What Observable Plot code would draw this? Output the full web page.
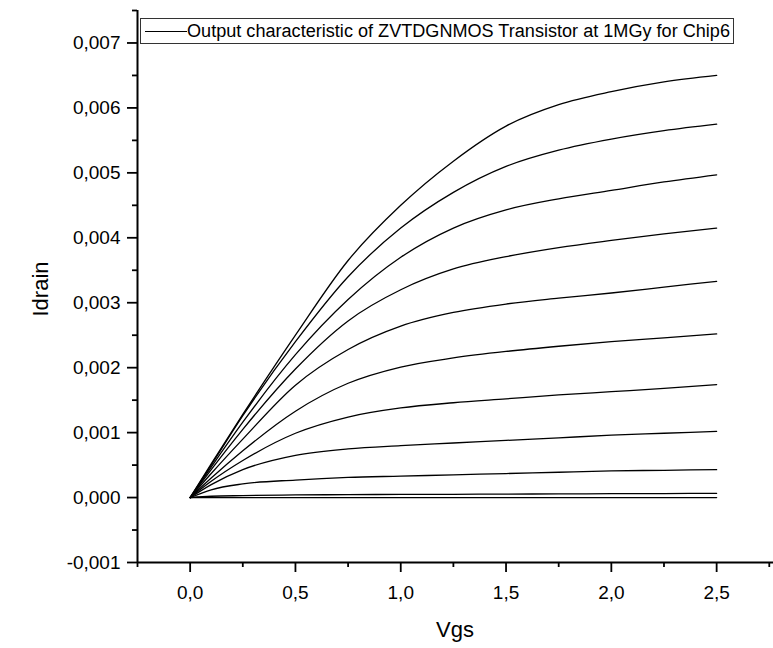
<!DOCTYPE html>
<html><head><meta charset="utf-8">
<script src="https://cdn.jsdelivr.net/npm/d3@7"></script>
<script src="https://cdn.jsdelivr.net/npm/@observablehq/plot@0.6"></script>
<style>body{margin:0;background:#fff} svg{display:block}</style>
</head><body><div id="chart"></div>
<script>
// Vgs sample points (V)
const vgs = [0, 0.1, 0.25, 0.5, 0.75, 1.0, 1.25, 1.5, 1.75, 2.0, 2.25, 2.5];
// Idrain curves (A), top to bottom
const id1  = [0, 0.00052, 0.00128, 0.0025, 0.00365, 0.0045, 0.00518, 0.00572, 0.00605, 0.00625, 0.0064, 0.0065];
const id2  = [0, 0.0005, 0.00126, 0.0024, 0.0034, 0.00415, 0.0047, 0.0051, 0.00535, 0.00552, 0.00565, 0.00575];
const id3  = [0, 0.00047, 0.00116, 0.0022, 0.00305, 0.0037, 0.00415, 0.00443, 0.0046, 0.00473, 0.00486, 0.00497];
const id4  = [0, 0.00043, 0.00105, 0.00198, 0.00272, 0.0032, 0.00352, 0.00371, 0.00385, 0.00396, 0.00406, 0.00415];
const id5  = [0, 0.00037, 0.0009, 0.00173, 0.00228, 0.00264, 0.00285, 0.00298, 0.00307, 0.00315, 0.00324, 0.00333];
const id6  = [0, 0.0003, 0.00072, 0.00133, 0.00176, 0.00201, 0.00215, 0.00225, 0.00233, 0.0024, 0.00246, 0.00252];
const id7  = [0, 0.00025, 0.00057, 0.00099, 0.00124, 0.00138, 0.00146, 0.00152, 0.00158, 0.00163, 0.00168, 0.00174];
const id8  = [0, 0.0002, 0.00043, 0.00065, 0.00075, 0.0008, 0.00084, 0.00088, 0.00092, 0.00096, 0.00099, 0.00102];
const id9  = [0, 0.00012, 0.00021, 0.00027, 0.00031, 0.00033, 0.00035, 0.00037, 0.00039, 0.00041, 0.00042, 0.00043];
const id10 = [0, 0.00002, 0.00003, 0.00004, 0.000045, 0.000048, 0.00005, 0.000053, 0.000056, 0.00006, 0.000062, 0.000065];
const id11 = [0, 0, 0, 0, 0, 0, 0, 0, 0, 0, 0, 0];

const xMajor = [0, 0.5, 1.0, 1.5, 2.0, 2.5];
const xMinor = [-0.25, 0.25, 0.75, 1.25, 1.75, 2.25, 2.75];
const yMajor = [-0.001, 0, 0.001, 0.002, 0.003, 0.004, 0.005, 0.006, 0.007];
const yMinor = [-0.0005, 0.0005, 0.0015, 0.0025, 0.0035, 0.0045, 0.0055, 0.0065, 0.0075];
const xLabel = "Vgs";
const yLabel = "Idrain";
const legendLabel = "Output characteristic of ZVTDGNMOS Transistor at 1MGy for Chip6";

const series = [id1, id2, id3, id4, id5, id6, id7, id8, id9, id10, id11];
const rows = series.flatMap((s, k) => s.map((v, i) => ({vgs: vgs[i], id: v, curve: k})));
const fmtX = d => d3.format(".1f")(d).replace(".", ",");
const fmtY = d => d3.format(".3f")(d).replace(".", ",").replace("\u2212", "-");

const font = "'Liberation Sans', Arial, sans-serif";
const chart = Plot.plot({
  width: 773, height: 648,
  marginLeft: 137, marginRight: 0, marginTop: 10, marginBottom: 86,
  x: {domain: [-0.25, 2.77]},
  y: {domain: [-0.001, 0.0075]},
  style: {fontFamily: font, color: "#000", background: "#fff", overflow: "visible"},
  marks: [
    Plot.line(rows, {x: "vgs", y: "id", z: "curve", stroke: "#000", strokeWidth: 1.3, curve: "monotone-x"}),
    Plot.axisX({ticks: xMajor, tickSize: 10, tickPadding: 13, tickFormat: fmtX, label: null, fontSize: 19, strokeWidth: 1.8}),
    Plot.axisX({ticks: xMinor, tickSize: 5, tickFormat: () => "", label: null, strokeWidth: 1.8}),
    Plot.axisY({ticks: yMajor, tickSize: 10, tickPadding: 7, tickFormat: fmtY, label: null, fontSize: 19, strokeWidth: 1.8}),
    Plot.axisY({ticks: yMinor, tickSize: 5, tickFormat: () => "", label: null, strokeWidth: 1.8}),
    Plot.ruleY([-0.001], {stroke: "#000", strokeWidth: 2}),
    Plot.ruleX([-0.25], {stroke: "#000", strokeWidth: 2})
  ]
});
document.getElementById("chart").appendChild(chart);

const svg = d3.select(chart);
svg.append("text").attr("x", 455).attr("y", 637).attr("text-anchor", "middle")
  .attr("font-family", font).attr("font-size", 22).attr("fill", "#000").text(xLabel);
svg.append("text").attr("transform", "translate(48,289) rotate(-90)").attr("text-anchor", "middle")
  .attr("font-family", font).attr("font-size", 22).attr("fill", "#000").text(yLabel);
const lg = svg.append("g");
lg.append("rect").attr("x", 140.5).attr("y", 18.5).attr("width", 593).attr("height", 25)
  .attr("fill", "#fff").attr("stroke", "#333").attr("stroke-width", 1);
lg.append("line").attr("x1", 145).attr("x2", 187).attr("y1", 31.5).attr("y2", 31.5)
  .attr("stroke", "#000").attr("stroke-width", 1.2);
lg.append("text").attr("x", 187).attr("y", 37).attr("text-anchor", "start")
  .attr("font-family", font).attr("font-size", 18)
  .attr("textLength", 543).attr("lengthAdjust", "spacingAndGlyphs").attr("fill", "#000").text(legendLabel);
</script></body></html>
